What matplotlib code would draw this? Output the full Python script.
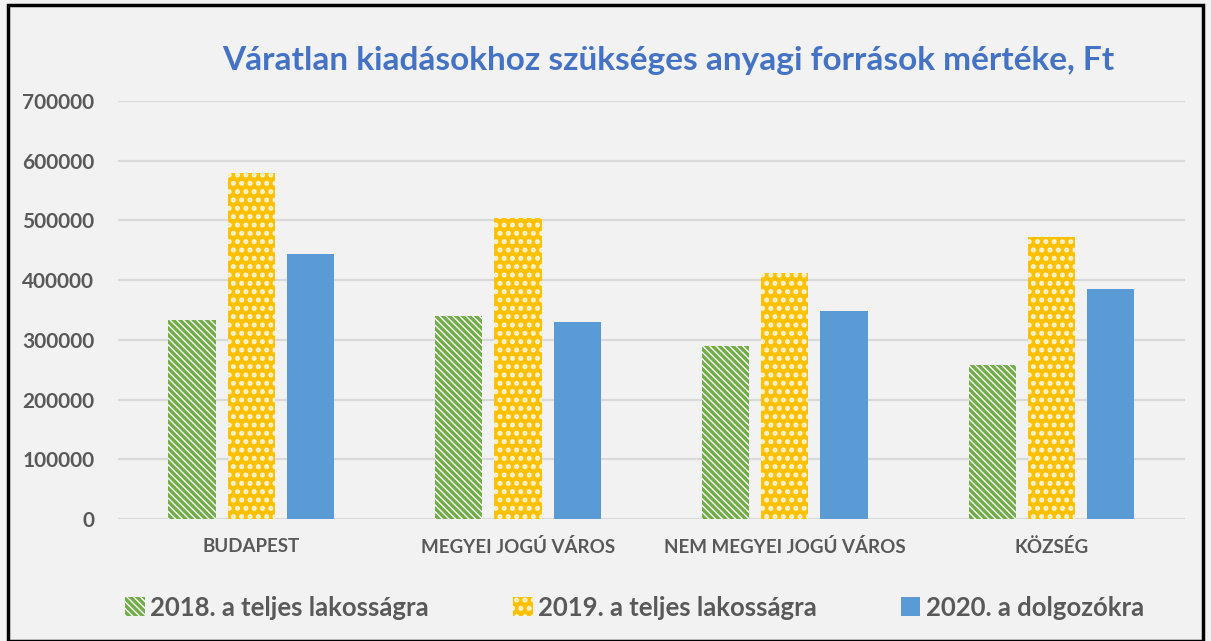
import numpy as np
import matplotlib
matplotlib.use("Agg")
from matplotlib import pyplot as plt
from matplotlib.patches import Rectangle

categories = ["BUDAPEST", "MEGYEI JOGÚ VÁROS", "NEM MEGYEI JOGÚ VÁROS", "KÖZSÉG"]
series_names = ["2018. a teljes lakosságra", "2019. a teljes lakosságra", "2020. a dolgozókra"]
vals_2018 = [333000, 340000, 290000, 258000]
vals_2019 = [580000, 504000, 412000, 472000]
vals_2020 = [444000, 330000, 348000, 385000]
yticks = [0, 100000, 200000, 300000, 400000, 500000, 600000, 700000]

plt.rcParams['font.family'] = ['Lato', 'DejaVu Sans']
plt.rcParams['hatch.linewidth'] = 2.4

bg = '#f2f2f2'
grey = '#595959'
fig = plt.figure(figsize=(12.11, 6.41), dpi=100, facecolor=bg)
# black frame around the picture
fig.patches.append(Rectangle((0.007, 0.0), 0.986, 0.992, transform=fig.transFigure,
                             fill=False, edgecolor='black', linewidth=2.5))

ax = fig.add_axes([0.0974, 0.1903, 0.881, 0.6521])
ax.set_facecolor(bg)

x = np.arange(len(categories))
w = 0.177
step = 0.222

# 2018: white with green diagonal stripes
ax.bar(x - step, vals_2018, w, facecolor='white', edgecolor='#70AD47',
       hatch='\\\\\\\\\\', linewidth=0, label=series_names[0], zorder=3)
# 2019: yellow with small white dashes
ax.bar(x, vals_2019, w, facecolor='#FFC000', edgecolor='#fff4d6',
       hatch='..', linewidth=0, label=series_names[1], zorder=3)
# 2020: plain blue
ax.bar(x + step, vals_2020, w, facecolor='#5B9BD5', edgecolor='#5B9BD5',
       linewidth=0, label=series_names[2], zorder=3)

ax.set_xlim(-0.5, len(categories) - 0.5)
ax.set_ylim(0, 700000)
ax.set_yticks(yticks)
ax.set_yticklabels([str(v) for v in yticks], fontsize=15, fontweight='bold', color=grey)
ax.set_xticks(x)
ax.set_xticklabels(categories, fontsize=13.5, fontweight='bold', color=grey)
ax.tick_params(axis='both', length=0)
ax.tick_params(axis='y', pad=17)
ax.tick_params(axis='x', pad=14)
ax.yaxis.grid(True, color='#d9d9d9', linewidth=1.6, zorder=0)
for s in ax.spines.values():
    s.set_visible(False)

fig.text(0.552, 0.905, "Váratlan kiadásokhoz szükséges anyagi források mértéke, Ft",
         ha='center', va='center', fontsize=24, fontweight='bold', color='#4472C4')

leg = fig.legend(loc='center', bbox_to_anchor=(0.524, 0.052), ncol=3, frameon=False,
                 fontsize=18.5, handlelength=0.75, handleheight=0.75, handletextpad=0.2,
                 columnspacing=3.3)
for t in leg.get_texts():
    t.set_fontweight('bold')
    t.set_color(grey)

fig.savefig("out.png", dpi=100, facecolor=bg)
